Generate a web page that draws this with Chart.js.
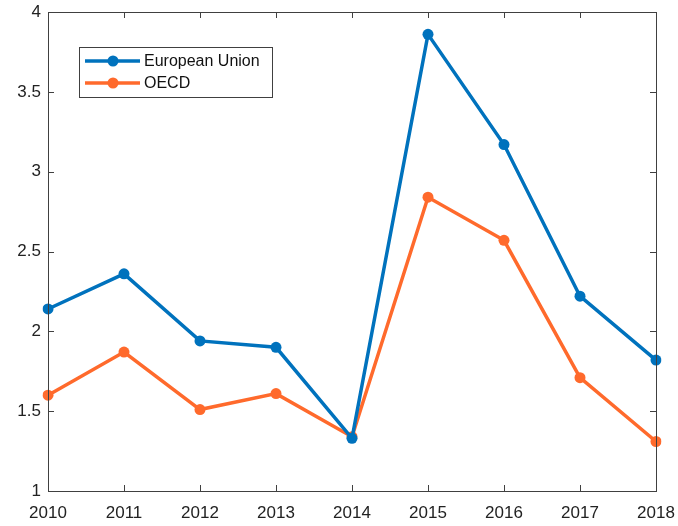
<!DOCTYPE html>
<html>
<head>
<meta charset="utf-8">
<script src="https://cdn.jsdelivr.net/npm/chart.js@4"></script>
<style>
  html, body { margin: 0; padding: 0; background: #fff; }
  #wrap { width: 678px; height: 526px; }
</style>
</head>
<body>
<div id="wrap"><canvas id="myChart"></canvas></div>
<script>
const years = ['2010', '2011', '2012', '2013', '2014', '2015', '2016', '2017', '2018'];
const euValues = [2.14, 2.36, 1.94, 1.90, 1.33, 3.86, 3.17, 2.22, 1.82];
const oecdValues = [1.60, 1.87, 1.51, 1.61, 1.34, 2.84, 2.57, 1.71, 1.31];
const yTicks = [1, 1.5, 2, 2.5, 3, 3.5, 4];

const blue = '#0072BD';
const orange = '#FF6A2C';
const axisColor = '#404040';
const fontFamily = "'Liberation Sans', Arial, sans-serif";

// box round the plot area with inward ticks, MATLAB style
const boxPlugin = {
  id: 'box',
  afterDatasetsDraw(chart) {
    const { ctx, chartArea: a, scales } = chart;
    ctx.save();
    ctx.strokeStyle = axisColor;
    ctx.lineWidth = 1;
    ctx.strokeRect(a.left + 0.5, a.top + 0.5, a.right - a.left, a.bottom - a.top);
    ctx.beginPath();
    years.forEach((y, i) => {
      const px = Math.round(scales.x.getPixelForValue(i)) + 0.5;
      ctx.moveTo(px, a.bottom); ctx.lineTo(px, a.bottom - 6);
      ctx.moveTo(px, a.top); ctx.lineTo(px, a.top + 6);
    });
    yTicks.forEach(v => {
      const py = Math.round(scales.y.getPixelForValue(v)) + 0.5;
      ctx.moveTo(a.left, py); ctx.lineTo(a.left + 6, py);
      ctx.moveTo(a.right, py); ctx.lineTo(a.right - 6, py);
    });
    ctx.stroke();
    ctx.restore();
  }
};

// legend box drawn inside the axes
const legendPlugin = {
  id: 'insideLegend',
  afterDraw(chart) {
    const { ctx } = chart;
    const x = 79, y = 47, w = 193, h = 50;
    ctx.save();
    ctx.fillStyle = '#fff';
    ctx.fillRect(x, y, w, h);
    ctx.strokeStyle = axisColor;
    ctx.lineWidth = 1;
    ctx.strokeRect(x + 0.5, y + 0.5, w, h);
    ctx.font = '16px ' + fontFamily;
    ctx.textBaseline = 'middle';
    chart.data.datasets.forEach((ds, i) => {
      const ly = y + 14 + i * 22;
      ctx.strokeStyle = ds.borderColor;
      ctx.lineWidth = 3.5;
      ctx.beginPath();
      ctx.moveTo(x + 6, ly); ctx.lineTo(x + 61, ly);
      ctx.stroke();
      ctx.fillStyle = ds.borderColor;
      ctx.beginPath();
      ctx.arc(x + 34, ly, 5.5, 0, Math.PI * 2);
      ctx.fill();
      ctx.fillStyle = '#111';
      ctx.fillText(ds.label, x + 65, ly + 1);
    });
    ctx.restore();
  }
};

const ctx = document.getElementById('myChart');

new Chart(ctx, {
  type: 'line',
  data: {
    labels: years,
    datasets: [{
      label: 'European Union',
      data: euValues,
      borderColor: blue,
      backgroundColor: blue,
      borderWidth: 3.5,
      pointRadius: 5.5,
      pointBorderWidth: 0,
      tension: 0
    }, {
      label: 'OECD',
      data: oecdValues,
      borderColor: orange,
      backgroundColor: orange,
      borderWidth: 3.5,
      pointRadius: 5.5,
      pointBorderWidth: 0,
      tension: 0
    }]
  },
  options: {
    responsive: true,
    maintainAspectRatio: false,
    animation: false,
    layout: { padding: { top: 12, right: 22, left: 0, bottom: 0 } },
    scales: {
      x: {
        offset: false,
        grid: { display: false, drawTicks: false },
        border: { display: false },
        ticks: {
          padding: 12,
          maxRotation: 0,
          autoSkip: false,
          color: '#222',
          font: { size: 17, family: fontFamily }
        },
        afterFit: s => { s.height = 35; s.paddingLeft = 0; s.paddingRight = 0; }
      },
      y: {
        min: 1,
        max: 4,
        grid: { display: false, drawTicks: false },
        border: { display: false },
        afterBuildTicks: s => { s.ticks = yTicks.map(v => ({ value: v })); },
        ticks: {
          padding: 7,
          color: '#222',
          font: { size: 17, family: fontFamily },
          callback: v => String(v)
        },
        afterFit: s => { s.width = 48; s.paddingTop = 0; s.paddingBottom = 0; }
      }
    },
    plugins: {
      legend: { display: false },
      tooltip: { enabled: false }
    }
  },
  plugins: [boxPlugin, legendPlugin]
});
</script>
</body>
</html>
